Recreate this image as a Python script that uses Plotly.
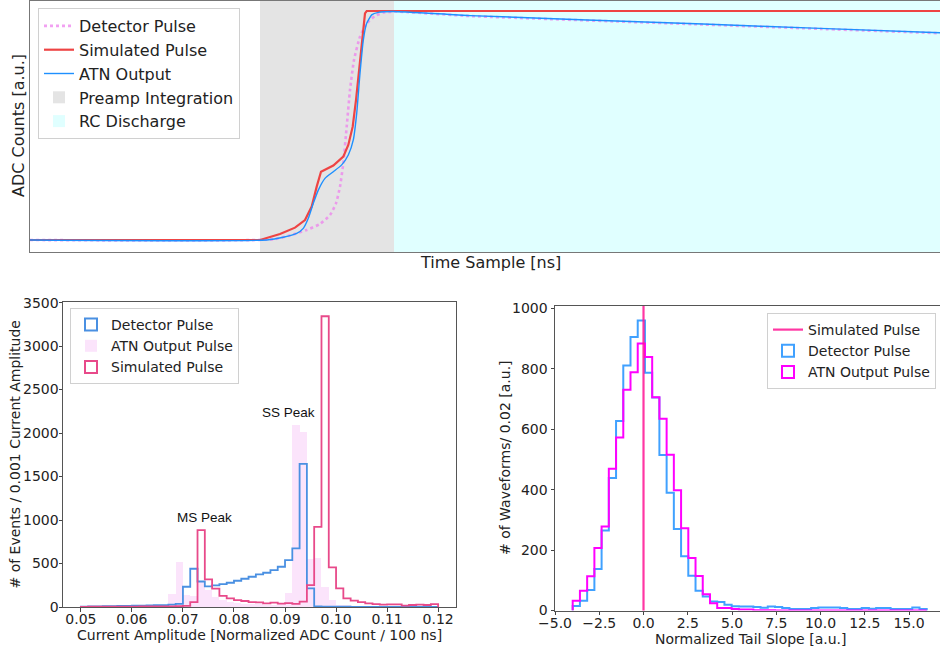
import numpy as np
import plotly.graph_objects as go

# ---------------- Top panel: pulse waveforms (time sample, normalized ADC) ----------------
sim_t = [0, 230, 250, 265, 275, 281.7, 286.7, 291, 303.3, 313.3, 318.3, 322.7, 326, 329.3, 332.3, 335, 336.7, 910]
sim_v = [0, 0, 0.026, 0.054, 0.087, 0.146, 0.233, 0.298, 0.325, 0.364, 0.415, 0.495, 0.611, 0.757, 0.903, 0.99, 1.0, 1.0]
atn_t = [0, 236.7, 253.3, 266.7, 273.3, 278.3, 283.3, 288.3, 295, 303.3, 311.7, 318.3, 323.3, 326.7, 330,
         333.3, 336.7, 341.7, 348.3, 363.3, 440, 673, 790, 910]
atn_v = [0, 0, 0.012, 0.029, 0.051, 0.095, 0.160, 0.218, 0.269, 0.298, 0.328, 0.371, 0.437, 0.553, 0.728,
         0.873, 0.946, 0.983, 0.994, 0.998, 0.980, 0.943, 0.924, 0.905]
det_t = [0, 243.3, 260, 276.7, 290, 300, 306, 310, 313.3, 316.7, 320, 324, 330, 336.7, 345, 353.3, 363.3,
         440, 673, 790, 910]
det_v = [0, 0.003, 0.020, 0.044, 0.070, 0.109, 0.160, 0.233, 0.335, 0.495, 0.655, 0.786, 0.888, 0.946,
         0.978, 0.993, 0.998, 0.978, 0.941, 0.922, 0.903]
preamp_window = [230, 364]
rc_window = [364, 930]

# ---------------- Bottom-left: current amplitude histograms ----------------
amp_edges = np.linspace(0.05, 0.12, 50)
amp_det = [5, 8, 8, 10, 10, 12, 12, 15, 15, 18, 20, 22, 28, 35,
           233, 440, 293, 238, 249, 264, 279, 302, 325, 348, 375, 394, 425, 463, 540, 673, 1645, 214,
           6, 4, 3, 3, 3, 2, 2, 2, 2, 2, 1, 1, 1, 1, 1, 1, 0]
amp_atn = [3, 4, 5, 5, 6, 6, 8, 8, 10, 10, 12, 15,
           155, 520, 140, 130, 290, 200, 120, 80, 60, 45, 38, 32, 30, 28, 28, 35, 157, 2088, 2012, 550,
           558, 233, 80, 25,
           12, 8, 6, 5, 4, 3, 3, 2, 2, 2, 1, 1, 1]
amp_sim = [2, 3, 4, 4, 5, 5, 5, 5, 6, 6, 6, 7, 8, 9,
           12, 55, 884, 318, 212, 128, 100, 80, 69, 57, 54, 42, 50, 38, 44, 36, 61, 252, 922, 3343, 455,
           214, 99, 73, 57, 42, 34, 27, 31, 31, 15, 23, 27, 23, 34]
amp_ticks = [0.05, 0.06, 0.07, 0.08, 0.09, 0.10, 0.11, 0.12]
ms_peak_pos = [0.0743, 1025]
ss_peak_pos = [0.0907, 2238]

# ---------------- Bottom-right: normalized tail slope histograms ----------------
slope_edges = np.linspace(-4, 16, 50)
slope_det = [15, 32, 68, 137, 265, 439, 627, 811, 905, 960, 787, 705, 515, 390, 270, 180, 115, 65, 46, 30,
             28, 19, 14, 13, 13, 12, 9, 13, 12, 8, 5, 5, 5, 8, 10, 10, 10, 8, 5, 5, 8, 6, 8, 8, 5, 5, 5, 10, 5]
slope_atn = [32, 65, 113, 207, 278, 469, 573, 731, 789, 884, 839, 706, 635, 516, 398, 272, 174, 114, 54, 24,
             8, 8, 5, 3, 3, 1, 1, 1, 0, 0, 0, 0, 0, 0, 0, 0, 0, 0, 0, 0, 0, 0, 0, 0, 0, 0, 0, 0, 0]
sim_slope = 0.0
slope_ticks = [-5.0, -2.5, 0.0, 2.5, 5.0, 7.5, 10.0, 12.5, 15.0]
count_ticks = [0, 200, 400, 600, 800, 1000]

W, H = 940, 651
FONT = "DejaVu Sans"


def px(x):
    return x / W


def py(y):
    return 1 - y / H


def step_xy(edges, counts):
    e = list(edges)
    xs = [e[0]] + e[:-1] + [e[-1], e[-1]]
    ys = [0] + list(counts) + [counts[-1], 0]
    return xs, ys


fig = go.Figure()

# ---- top panel ----
fig.add_trace(go.Scatter(x=det_t, y=det_v, mode="lines", name="Detector Pulse",
                         line=dict(color="rgba(238,130,238,0.75)", width=2.6, dash="dot", shape="spline", smoothing=0.5),
                         xaxis="x", yaxis="y", legend="legend", legendrank=1))
fig.add_trace(go.Scatter(x=sim_t, y=sim_v, mode="lines", name="Simulated Pulse",
                         line=dict(color="#ee4444", width=2.2),
                         xaxis="x", yaxis="y", legend="legend", legendrank=2))
fig.add_trace(go.Scatter(x=atn_t, y=atn_v, mode="lines", name="ATN Output",
                         line=dict(color="#1e90ff", width=1.4, shape="spline", smoothing=0.5),
                         xaxis="x", yaxis="y", legend="legend", legendrank=3))
fig.add_shape(type="rect", xref="x", yref="y domain", x0=preamp_window[0], x1=preamp_window[1], y0=0, y1=1,
              fillcolor="#e4e4e4", line=dict(width=0), layer="below",
              showlegend=True, name="Preamp Integration", legend="legend", legendrank=4)
fig.add_shape(type="rect", xref="x", yref="y domain", x0=rc_window[0], x1=rc_window[1], y0=0, y1=1,
              fillcolor="#e0ffff", line=dict(width=0), layer="below",
              showlegend=True, name="RC Discharge", legend="legend", legendrank=5)

# ---- bottom-left ----
amp_c = (amp_edges[:-1] + amp_edges[1:]) / 2
amp_w = amp_edges[1] - amp_edges[0]
fig.add_trace(go.Bar(x=amp_c, y=amp_atn, width=amp_w, marker=dict(color="#fbe4fb", line=dict(width=0)),
                     name="ATN Output Pulse", xaxis="x2", yaxis="y2", legend="legend2", legendrank=2))
xs, ys = step_xy(amp_edges, amp_det)
fig.add_trace(go.Scatter(x=xs, y=ys, mode="lines", line=dict(color="#4a90e2", width=1.8, shape="hv"),
                         showlegend=False, xaxis="x2", yaxis="y2"))
xs, ys = step_xy(amp_edges, amp_sim)
fig.add_trace(go.Scatter(x=xs, y=ys, mode="lines", line=dict(color="#e84a8a", width=1.8, shape="hv"),
                         showlegend=False, xaxis="x2", yaxis="y2"))
fig.add_trace(go.Bar(x=[None], y=[None], name="Detector Pulse", xaxis="x2", yaxis="y2",
                     marker=dict(color="rgba(0,0,0,0)", line=dict(color="#4a90e2", width=2)),
                     legend="legend2", legendrank=1))
fig.add_trace(go.Bar(x=[None], y=[None], name="Simulated Pulse", xaxis="x2", yaxis="y2",
                     marker=dict(color="rgba(0,0,0,0)", line=dict(color="#e84a8a", width=2)),
                     legend="legend2", legendrank=3))
fig.add_annotation(x=ms_peak_pos[0], y=ms_peak_pos[1], xref="x2", yref="y2", text="MS Peak", showarrow=False,
                   font=dict(family="Liberation Sans", size=13.5, color="#111"))
fig.add_annotation(x=ss_peak_pos[0], y=ss_peak_pos[1], xref="x2", yref="y2", text="SS Peak", showarrow=False,
                   font=dict(family="Liberation Sans", size=13.5, color="#111"))

# ---- bottom-right ----
xs, ys = step_xy(slope_edges, slope_det)
fig.add_trace(go.Scatter(x=xs, y=ys, mode="lines", line=dict(color="rgba(30,144,255,0.85)", width=2, shape="hv"),
                         showlegend=False, xaxis="x3", yaxis="y3"))
xs, ys = step_xy(slope_edges, slope_atn)
fig.add_trace(go.Scatter(x=xs, y=ys, mode="lines", line=dict(color="#ff00ff", width=2, shape="hv"),
                         showlegend=False, xaxis="x3", yaxis="y3"))
fig.add_trace(go.Bar(x=[None], y=[None], name="Detector Pulse", xaxis="x3", yaxis="y3",
                     marker=dict(color="rgba(0,0,0,0)", line=dict(color="rgba(30,144,255,0.85)", width=2)),
                     legend="legend3", legendrank=2))
fig.add_trace(go.Bar(x=[None], y=[None], name="ATN Output Pulse", xaxis="x3", yaxis="y3",
                     marker=dict(color="rgba(0,0,0,0)", line=dict(color="#ff00ff", width=2)),
                     legend="legend3", legendrank=3))
fig.add_shape(type="line", xref="x3", yref="y3 domain", x0=sim_slope, x1=sim_slope, y0=0, y1=1,
              line=dict(color="rgba(255,20,147,0.85)", width=2.2),
              showlegend=True, name="Simulated Pulse", legend="legend3", legendrank=1)

axis_common = dict(showgrid=False, zeroline=False, showline=True, linecolor="#555", linewidth=1,
                   tickfont=dict(family=FONT, size=14, color="#222"), ticks="outside", ticklen=3.5,
                   tickcolor="#444", automargin=False)
xtick_extra = dict(ticklabelstandoff=-4)

legend_common = dict(xanchor="left", yanchor="top", bgcolor="rgba(255,255,255,0.85)", bordercolor="#d0d0d0",
                     borderwidth=1, itemwidth=30, font=dict(family=FONT, size=14, color="#222"))

fig.update_layout(
    template="none",
    width=W, height=H, margin=dict(l=0, r=0, t=0, b=0, pad=0, autoexpand=False),
    paper_bgcolor="white", plot_bgcolor="white", barmode="overlay", bargap=0,
    xaxis=dict(domain=[px(30), 1.0], range=[0, 910], anchor="y", showgrid=False, zeroline=False,
               showline=True, mirror=True, linecolor="#777", linewidth=1, showticklabels=False, ticks="",
               automargin=False),
    yaxis=dict(domain=[py(252), py(1)], range=[-0.0524, 1.0437], anchor="x", showgrid=False, zeroline=False,
               showline=True, linecolor="#777", linewidth=1, showticklabels=False, ticks="", automargin=False),
    xaxis2=dict(domain=[px(63), px(456)], range=[0.0465, 0.1235], anchor="y2", type="linear",
                tickvals=amp_ticks, ticktext=[f"{v:.2f}" for v in amp_ticks], mirror=True,
                **axis_common, **xtick_extra),
    yaxis2=dict(domain=[py(607), py(302)], range=[0, 3507], anchor="x2", dtick=500, mirror=True,
                ticklabelstandoff=-3, **axis_common),
    xaxis3=dict(domain=[px(555), 1.0], range=[-5, 16.75], anchor="y3", type="linear",
                tickvals=slope_ticks, ticktext=[f"{v:.1f}".replace("-", "\u2212") for v in slope_ticks],
                mirror=True, **axis_common, **xtick_extra),
    yaxis3=dict(domain=[py(610.5), py(306)], range=[0, 1008], anchor="x3", tickvals=count_ticks,
                **axis_common),
    legend=dict(x=px(38), y=py(8), **{**legend_common, "font": dict(family=FONT, size=16, color="#222")}),
    legend2=dict(x=px(70), y=py(308), **legend_common),
    legend3=dict(x=px(767), y=py(313), **legend_common),
)

# axis titles
titles = [
    ("ADC Counts [a.u.]", 18, 126, -90, 16),
    ("Time Sample [ns]", 490, 262, 0, 16),
    ("# of Events / 0.001 Current Amplitude", 14, 454.5, -90, 14),
    ("Current Amplitude [Normalized ADC Count / 100 ns]", 259.5, 635, 0, 14),
    ("# of Waveforms/ 0.02 [a.u.]", 505, 458, -90, 14),
    ("Normalized Tail Slope [a.u.]", 750, 638.5, 0, 14),
]
for text, x, y, ang, size in titles:
    fig.add_annotation(x=px(x), y=py(y), xref="paper", yref="paper", text=text, showarrow=False,
                       textangle=ang, xanchor="center", yanchor="middle",
                       font=dict(family=FONT, size=size, color="#222"))

fig.write_html("out.html", config={"displayModeBar": False},
               post_script="document.body.style.margin='0';document.body.style.overflow='hidden';")
